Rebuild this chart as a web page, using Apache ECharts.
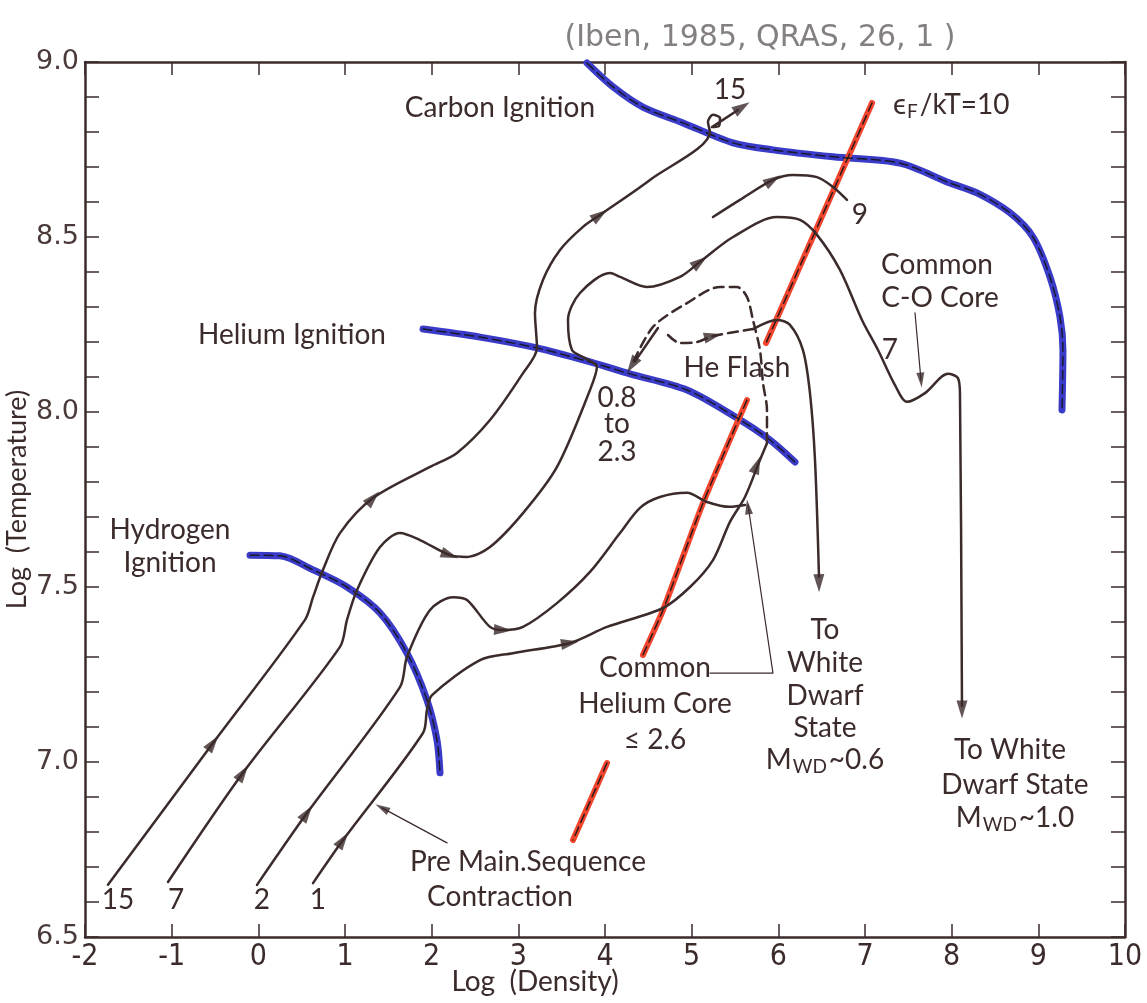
<!DOCTYPE html>
<html><head><meta charset="utf-8">
<script src="https://cdn.jsdelivr.net/npm/echarts@6/dist/echarts.min.js"></script>
<style>html,body{margin:0;padding:0;background:#fff}#c{width:1147px;height:1003px}</style>
</head><body><div id="c"></div>
<script>
// ---- data: [log density, log temperature] ----
const xTicks = [-2,-1,0,1,2,3,4,5,6,7,8,9,10];
const yTickLabels = ['6.5','7.0','7.5','8.0','8.5','9.0'];

const hydrogenIgnition = [[-0.096,7.591],[0.25,7.589],[0.631,7.549],[1.023,7.5],[1.404,7.426],[1.715,7.311],[1.946,7.177],[2.061,7.063],[2.096,6.969]];
const heliumIgnition = [[1.9,8.237],[2.558,8.214],[3.215,8.183],[3.827,8.143],[4.288,8.109],[4.946,8.063],[5.523,7.983],[5.904,7.92],[6.192,7.857]];
const carbonIgnition = [[3.792,8.997],[4.092,8.929],[4.438,8.871],[4.9,8.826],[5.477,8.769],[5.938,8.749],[6.631,8.729],[7.404,8.711],[7.98,8.654],[8.292,8.626],[8.673,8.569],[8.938,8.5],[9.134,8.386],[9.25,8.271],[9.284,8.177],[9.273,8.006]];
const degeneracy1 = [[7.081,8.883],[5.858,8.197]];
const degeneracy2 = [[5.638,8.034],[5.131,7.74],[4.669,7.434],[4.438,7.306]];
const degeneracy3 = [[4.023,6.997],[3.631,6.777]];

const track15 = [[-1.735,6.649],[-0.523,7.054],[0.538,7.406],[0.631,7.471],[0.746,7.549],[0.942,7.654],[1.323,7.754],[1.981,7.843],[2.292,7.883],[2.673,7.977],[3.054,8.111],[3.215,8.183],[3.192,8.283],[3.284,8.377],[3.481,8.463],[3.746,8.529],[3.942,8.563],[4.519,8.663],[5.211,8.8],[5.188,8.829],[5.246,8.849],[5.327,8.84],[5.315,8.817],[5.234,8.814],[5.534,8.863]];
const track7 = [[-1.042,6.657],[-0.177,6.969],[0.942,7.329],[1.023,7.406],[1.138,7.491],[1.404,7.614],[1.634,7.654],[1.865,7.634],[2.211,7.591],[2.408,7.586],[2.673,7.614],[3.054,7.711],[3.446,7.843],[3.827,8.063],[3.907,8.129],[3.769,8.154],[3.619,8.177],[3.573,8.263],[3.711,8.34],[4.058,8.397],[4.173,8.386],[4.484,8.357],[4.865,8.386],[5.096,8.429],[5.477,8.5],[5.984,8.557],[6.25,8.549],[6.446,8.506],[6.711,8.406],[6.965,8.263],[7.15,8.177],[7.346,8.077],[7.484,8.029],[7.692,8.054],[7.957,8.109],[8.073,8.097],[8.096,8.049],[8.119,7.16]];
const track9 = [[5.246,8.557],[5.557,8.606],[5.938,8.663],[6.169,8.677],[6.446,8.671],[6.631,8.643],[6.792,8.606]];
const track2 = [[-0.015,6.649],[0.561,6.854],[1.634,7.214],[1.715,7.3],[1.981,7.434],[2.246,7.471],[2.408,7.463],[2.673,7.386],[2.823,7.377],[3.054,7.386],[3.446,7.454],[3.827,7.543],[4.173,7.654],[4.404,7.726],[4.634,7.757],[4.946,7.769],[5.177,7.743],[5.442,7.729],[5.615,7.734]];
const track1 = [[0.631,6.654],[0.977,6.777],[1.9,7.083],[1.946,7.149],[2.004,7.191],[2.558,7.291],[2.938,7.311],[3.596,7.34],[4.023,7.386],[4.669,7.44],[4.981,7.5],[5.246,7.577],[5.442,7.686],[5.615,7.757],[5.788,7.863],[5.869,7.911]];
const heFlash = [[5.869,7.911],[5.869,8.006],[5.823,8.083],[5.788,8.177],[5.707,8.263],[5.638,8.329],[5.523,8.357],[5.327,8.357],[4.946,8.311],[4.554,8.243],[4.311,8.134]];
const heFlashShaft = [[4.611,8.24],[4.35,8.146]];
const postFlashDashed = [[4.727,8.22],[4.865,8.197],[5.061,8.2],[5.246,8.217],[5.707,8.237]];
const postFlashSolid = [[5.707,8.237],[5.984,8.263],[6.134,8.249],[6.284,8.177],[6.365,8.054],[6.423,7.863],[6.469,7.53]];

const leaderHeCore = [[5.211,7.254],[5.938,7.254],[5.65,7.735]];
const leaderPreMS = [[2.177,6.769],[1.427,6.869]];
const leaderCO = [[7.577,8.283],[7.646,8.091]];

// arrows: [x, y, xBehind, yBehind]
const trackArrows = [
  [-0.523,7.054,-1.735,6.649],[1.323,7.754,0.942,7.654],[3.942,8.563,3.746,8.529],[5.58,8.871,5.384,8.84],
  [-0.177,6.969,-1.042,6.657],[2.211,7.591,1.981,7.611],[5.096,8.429,4.865,8.386],[8.119,7.15,8.119,7.32],
  [5.938,8.663,5.557,8.606],
  [0.561,6.854,-0.015,6.649],[2.823,7.377,2.615,7.38],[6.469,7.511,6.458,7.691],
  [0.977,6.777,0.631,6.654],[3.596,7.34,3.25,7.326],[5.754,7.849,5.615,7.757],
  [5.246,8.217,5.061,8.206],[4.311,8.134,4.461,8.191]
];
const leaderArrows = [[5.65,7.729,5.788,7.491],[1.427,6.869,2.177,6.769],[7.646,8.091,7.577,8.283]];

// text annotations: [x, y, text]
const labels = [
  [2.788,8.869,'Carbon Ignition'],[5.442,8.92,'15'],[6.942,8.563,'9'],
  [7.831,8.42,'Common'],[7.865,8.326,'C-O Core'],[7.288,8.177,'7'],
  [0.388,8.22,'Helium Ignition'],[5.523,8.126,'He Flash'],
  [4.138,8.04,'0.8'],[4.138,7.966,'to'],[4.138,7.886,'2.3'],
  [-1.019,7.663,'Hydrogen'],[-1.019,7.569,'Ignition'],
  [4.577,7.269,'Common'],[4.577,7.166,'Helium Core'],[4.577,7.063,'≤ 2.6'],
  [6.538,7.377,'To'],[6.538,7.283,'White'],[6.538,7.189,'Dwarf'],[6.538,7.097,'State'],[6.538,7.006,'{n|M}{s|WD}{n|~0.6}'],
  [8.673,7.034,'To White'],[8.73,6.934,'Dwarf State'],[8.73,6.84,'{n|M}{s|WD}{n|~1.0}'],
  [3.111,6.714,'Pre Main.Sequence'],[2.788,6.614,'Contraction'],
  [-1.619,6.606,'15'],[-0.95,6.606,'7'],[0.042,6.606,'2'],[0.688,6.606,'1']
];
const fermiLabel = [7.323,8.877,'{n|ϵ}{s|F}{n|/kT=10}'];
const sourceNote = '(Iben, 1985, QRAS, 26, 1 )';

// ---- rendering ----
const INK = '#3b2b2b';
const BLUE = '#3a3cc9';
const RED = '#f2452e';
const FONT = 'Lato, "Noto Sans", sans-serif';
const chart = echarts.init(document.getElementById('c'), null, {renderer:'canvas'});

function line(data, color, width, type, smooth, z){
  return {type:'line', data:data, showSymbol:false, symbol:'none', smooth:smooth, silent:true, animation:false, clip:false, z:z,
    lineStyle:{color:color, width:width, type:type, cap:'round', join:'round'}};
}
function axisCommon(){
  return {axisLine:{show:true, onZero:false, lineStyle:{color:INK, width:2.5}}, splitLine:{show:false}};
}
const series = [];
[hydrogenIgnition, heliumIgnition, carbonIgnition].forEach(d=>{
  series.push(line(d, BLUE, 7, 'solid', 0.3, 2));
  series.push(line(d, '#1a1a2a', 1.5, [9,5], 0.3, 3));
});
[degeneracy1, degeneracy2, degeneracy3].forEach(d=>{
  series.push(line(d, RED, 6, 'solid', 0.2, 2));
  series.push(line(d, '#2a1a1a', 1.5, [9,5], 0.2, 3));
});
[track15, track7, track9, track2, track1, postFlashSolid, heFlashShaft].forEach(d=>series.push(line(d, INK, 2.5, 'solid', 0.3, 4)));
[heFlash, postFlashDashed].forEach(d=>series.push(line(d, INK, 2.5, [10,6], 0.3, 4)));
[leaderHeCore, leaderPreMS].forEach(d=>series.push(line(d, INK, 1.2, 'solid', false, 4)));
series.push(line(leaderCO, INK, 1.2, 'solid', false, 4));
const arrowTrackIdx = series.length;
series.push({type:'scatter', data:[], symbol:'triangle', symbolSize:[11,18], itemStyle:{color:INK}, silent:true, animation:false, z:6});
const arrowLeaderIdx = series.length;
series.push({type:'scatter', data:[], symbol:'triangle', symbolSize:[8,15], itemStyle:{color:INK}, silent:true, animation:false, z:6});

const labelColor = '#3b2b2b';
const option = {
  animation:false,
  backgroundColor:'#ffffff',
  grid:{left:85, right:22, top:62, bottom:66, containLabel:false, outerBoundsMode:'none'},
  xAxis:[
    Object.assign(axisCommon(), {type:'value', min:xTicks[0], max:xTicks[xTicks.length-1], interval:1, position:'bottom',
      axisTick:{inside:true, length:13, lineStyle:{color:INK, width:1.5}},
      axisLabel:{color:labelColor, fontSize:30, fontFamily:'"Liberation Sans Narrow", "DejaVu Sans Condensed", sans-serif', margin:5,
        formatter:v=>String(Math.round(v))},
      name:'Log  (Density)', nameLocation:'middle', nameGap:31, nameMoveOverlap:false,
      nameTextStyle:{color:labelColor, fontSize:28, fontFamily:FONT, padding:[0,140,0,0], verticalAlign:'top'}}),
    Object.assign(axisCommon(), {type:'value', min:xTicks[0], max:xTicks[xTicks.length-1], interval:1, position:'top',
      axisTick:{inside:true, length:13, lineStyle:{color:INK, width:1.5}}, axisLabel:{show:false}})
  ],
  yAxis:[
    Object.assign(axisCommon(), {type:'value', min:6.5, max:9.0, interval:0.1, position:'left',
      axisTick:{inside:true, length:14, lineStyle:{color:INK, width:1.5}},
      axisLabel:{color:'#4a3a3a', fontSize:27, fontFamily:'"DejaVu Sans", sans-serif', margin:6,
        formatter:v=>{const s=v.toFixed(1); return yTickLabels.indexOf(s)>=0 ? s : '';}},
      name:'Log  (Temperature)', nameLocation:'middle', nameGap:54, nameRotate:90, nameMoveOverlap:false,
      nameTextStyle:{color:labelColor, fontSize:27, fontFamily:FONT}}),
    Object.assign(axisCommon(), {type:'value', min:6.5, max:9.0, interval:0.1, position:'right',
      axisTick:{inside:true, length:14, lineStyle:{color:INK, width:1.5}}, axisLabel:{show:false}})
  ],
  series:series
};
chart.setOption(option);

function px(x,y){ return chart.convertToPixel({gridIndex:0},[x,y]); }
function arrowData(list){
  return list.map(a=>{
    const p=px(a[0],a[1]), q=px(a[2],a[3]);
    const dx=p[0]-q[0], dy=p[1]-q[1];
    return {value:[a[0],a[1]], symbolRotate:Math.atan2(-dx,-dy)*180/Math.PI};
  });
}
const rich = {
  n:{fontSize:28, fontFamily:FONT, fill:labelColor, color:labelColor},
  s:{fontSize:19, fontFamily:FONT, fill:labelColor, color:labelColor, padding:[14,2,0,1]}
};
const graphics = labels.map(l=>{
  const p=px(l[0],l[1]);
  return {type:'text', x:p[0], y:p[1], silent:true, z:10,
    style:{text:l[2], fill:labelColor, fontSize:28, fontFamily:FONT,
      align:'center', verticalAlign:'middle', textAlign:'center', textVerticalAlign:'middle', rich:rich}};
});
const fp = px(fermiLabel[0], fermiLabel[1]);
graphics.push({type:'text', x:fp[0], y:fp[1], silent:true, z:10,
  style:{text:fermiLabel[2], fill:labelColor, fontSize:28, fontFamily:FONT, align:'left', verticalAlign:'middle', textAlign:'left', textVerticalAlign:'middle', rich:rich}});
graphics.push({type:'text', x:760, y:38, silent:true, z:10,
  style:{text:sourceNote, fill:'#858080', fontSize:30, fontFamily:'"DejaVu Sans", sans-serif', align:'center', verticalAlign:'middle', textAlign:'center', textVerticalAlign:'middle'}});

const upd = {series:[], graphic:graphics};
for(let i=0;i<series.length;i++) upd.series.push({});
upd.series[arrowTrackIdx] = {data:arrowData(trackArrows)};
upd.series[arrowLeaderIdx] = {data:arrowData(leaderArrows)};
chart.setOption(upd);
</script>
</body></html>
